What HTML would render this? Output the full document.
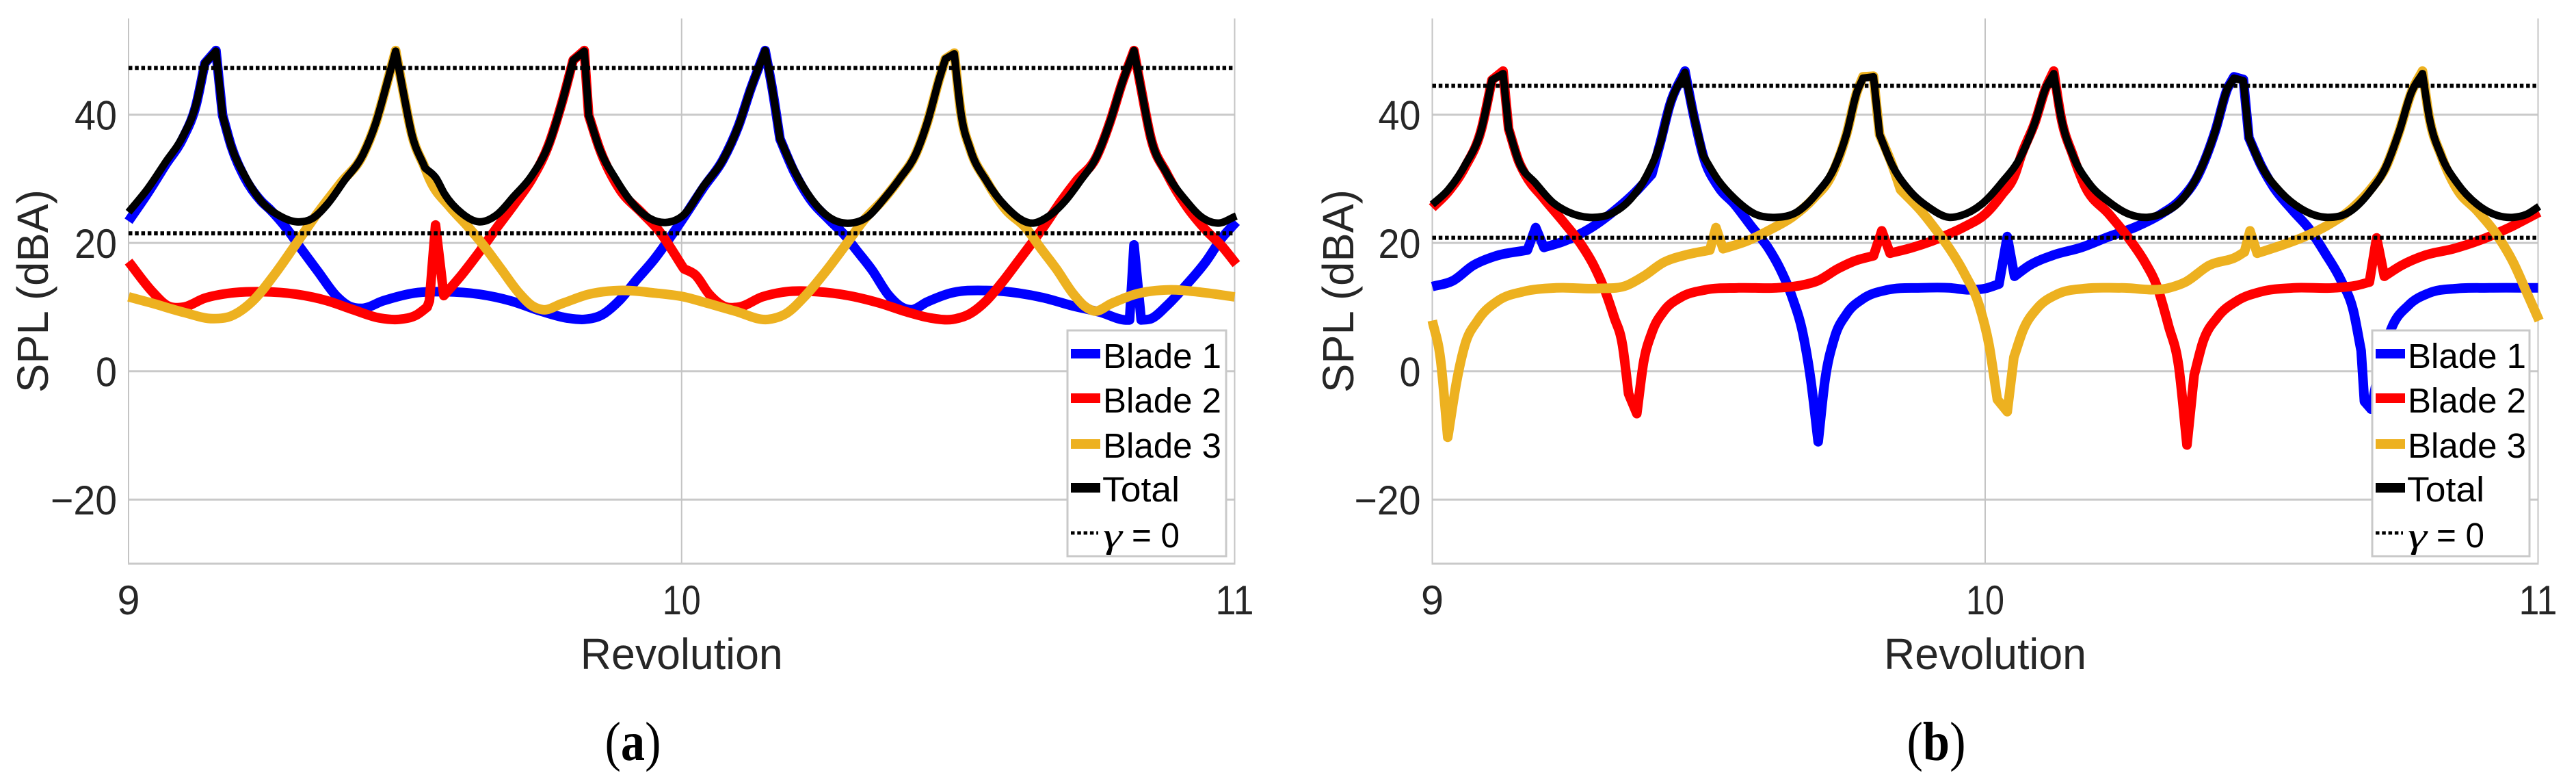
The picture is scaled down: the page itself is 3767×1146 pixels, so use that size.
<!DOCTYPE html>
<html lang="en">
<head>
<meta charset="utf-8">
<title>SPL per blade vs revolution</title>
<style>
html,body{margin:0;padding:0;background:#fff;width:3767px;height:1146px;overflow:hidden}
svg{display:block}
text{font-family:"Liberation Sans",sans-serif}
</style>
</head>
<body>
<svg id="figure" xmlns="http://www.w3.org/2000/svg" width="3767" height="1146" viewBox="0 0 3767 1146"></svg>
<script>
const xTicks = [9, 10, 11];
const yTicks = [-20, 0, 20, 40];
const xDomain = [9, 11];
const yDomain = [-30, 55];
const seriesLabels = ['Blade 1', 'Blade 2', 'Blade 3', 'Total'];

/* ---------- Panel (a) ---------- */
const aBlade1Rev = [9,9.035,9.067,9.098,9.122,9.138,9.158,9.17,9.186,9.21,9.24,9.256,9.288,9.312,9.343,9.375,9.398,9.422,9.461,9.517,9.572,9.635,9.69,9.745,9.793,9.824,9.856,9.887,9.919,9.951,9.982,10.004,10.04,10.075,10.103,10.125,10.151,10.164,10.178,10.203,10.231,10.267,10.295,10.316,10.345,10.373,10.398,10.416,10.444,10.487,10.551,10.608,10.657,10.707,10.757,10.803,10.81,10.818,10.831,10.849,10.877,10.913,10.948,10.977,11.003];
const aBlade1Spl = [23.4,27.8,32.2,36.3,41.5,48,50,39.9,35,30.2,26.5,25.2,22,19.1,15.5,11.8,10.2,9.8,11,12.2,12.4,12,11,9.4,8.3,8.1,8.8,11,14.3,17.5,21.2,24,28.7,33,38.3,44,50,44,36.2,31.2,27,23.6,21.2,18.9,15.7,12,10,9.6,10.8,12.2,12.6,12.2,11.4,10.2,9.2,8,8,19.7,8,8.2,10.2,13.5,17.1,20.8,23.3];
const aBlade2Rev = [9,9.043,9.071,9.099,9.138,9.185,9.241,9.304,9.359,9.406,9.454,9.489,9.521,9.54,9.544,9.555,9.57,9.603,9.635,9.666,9.698,9.73,9.76,9.785,9.804,9.824,9.832,9.852,9.887,9.927,9.958,10.004,10.025,10.05,10.075,10.103,10.146,10.189,10.245,10.302,10.359,10.409,10.451,10.49,10.522,10.551,10.579,10.608,10.629,10.657,10.686,10.714,10.75,10.774,10.796,10.818,10.831,10.849,10.877,10.913,10.948,10.977,11.003];
const aBlade2Spl = [17.1,12.4,10.2,10,11.4,12.2,12.4,12,11,9.6,8.3,8.1,8.8,10,11,22.8,11.8,15.1,18.7,22.4,26.1,30.1,35.4,42.3,48.5,50,39.9,34.6,28.5,24.8,22,16,15,12,10.2,10,11.6,12.4,12.4,11.8,10.6,9.2,8.3,8.1,9,11,13.8,17.1,19.5,22.8,26.5,29.7,33.4,38.7,44.8,50,44,36.2,30.9,25.7,22,19.5,16.7];
const aBlade3Rev = [9,9.043,9.099,9.154,9.185,9.225,9.264,9.304,9.343,9.383,9.424,9.447,9.467,9.483,9.496,9.512,9.536,9.544,9.58,9.611,9.643,9.674,9.706,9.73,9.749,9.785,9.832,9.887,9.951,10.004,10.047,10.096,10.157,10.189,10.224,10.26,10.295,10.33,10.366,10.395,10.423,10.444,10.466,10.477,10.493,10.505,10.522,10.551,10.586,10.622,10.65,10.678,10.707,10.728,10.746,10.778,10.82,10.884,10.941,11];
const aBlade3Spl = [11.6,10.6,9.2,8.2,8.6,11,15.1,20,24.8,29.3,33.8,38.7,44.8,50,43.9,37,31.7,30,25.7,22.8,19.5,15.9,12.2,10.2,9.6,10.6,12,12.6,12.2,11.6,10.6,9.4,8.1,9,11.8,15.5,19.5,23.6,26.9,30.1,33.8,38.7,45.6,48.7,49.6,40.3,34.6,29.7,25.2,22.4,19.1,15.9,12.2,10.2,9.4,10.6,12,12.7,12.3,11.6];
const aTotalRev = [9,9.035,9.067,9.098,9.122,9.138,9.158,9.17,9.186,9.21,9.24,9.274,9.304,9.332,9.36,9.39,9.424,9.447,9.467,9.483,9.496,9.512,9.536,9.556,9.571,9.603,9.634,9.666,9.697,9.729,9.76,9.785,9.804,9.824,9.832,9.852,9.88,9.912,9.943,9.971,10.004,10.04,10.075,10.103,10.125,10.151,10.164,10.178,10.203,10.231,10.267,10.306,10.338,10.366,10.395,10.423,10.444,10.466,10.477,10.493,10.505,10.522,10.551,10.586,10.636,10.664,10.693,10.721,10.75,10.774,10.796,10.818,10.831,10.849,10.877,10.913,10.941,10.97,11.003];
const aTotalSpl = [24.8,28.5,32.6,36.6,41.6,48,49.9,39.9,35,30.5,26.5,24.2,23.3,23.8,26.1,29.7,33.8,38.7,44.8,49.9,43.9,37,31.7,30.1,27.7,24.6,23.3,24.4,27.3,30.5,35.4,42.3,48.5,49.9,39.9,34.6,30.1,26.1,23.8,23.2,24.4,28.9,33,38.3,44,50,44,36.2,31.4,27.3,24,23.1,24.2,26.9,30.1,33.8,38.7,45.6,48.7,49.5,40.3,34.6,29.7,25.7,23.1,24.2,26.5,29.7,33.4,38.7,44.8,50,44,36.2,30.9,26.5,24,23.1,24.2];
const aGammaZero = [47.3, 21.5];

/* ---------- Panel (b) ---------- */
const bBlade1Rev = [9,9.037,9.074,9.112,9.172,9.187,9.202,9.239,9.284,9.329,9.367,9.397,9.412,9.43,9.457,9.472,9.49,9.517,9.547,9.577,9.607,9.629,9.652,9.67,9.685,9.698,9.71,9.727,9.749,9.779,9.824,9.884,9.935,9.971,10,10.025,10.04,10.053,10.08,10.123,10.174,10.224,10.275,10.318,10.355,10.383,10.416,10.438,10.45,10.467,10.477,10.499,10.521,10.557,10.586,10.615,10.644,10.666,10.68,10.686,10.698,10.712,10.734,10.766,10.803,10.854,10.912,11];
const bBlade1Spl = [13.2,14.1,16.5,17.9,18.9,22.4,19.3,20.3,22.2,25,27.9,30.7,35.5,41.6,46.8,40.2,33.6,28.8,26,22.6,19.3,16,11.3,6,-1.6,-11,-1.6,5.1,8.9,11.3,12.7,13,13,12.7,12.9,13.6,21,14.8,16.5,18.1,19.3,21,22.6,24.5,26.9,30.2,37.4,44,45.9,45.5,36.4,32.1,28.8,25,22.2,18.4,14.1,9.4,3.2,-4.7,-5.9,0,6.5,10.3,12.2,12.9,13,13];
const bBlade2Rev = [9,9.029,9.059,9.089,9.108,9.128,9.138,9.157,9.168,9.202,9.239,9.269,9.292,9.314,9.329,9.344,9.355,9.37,9.382,9.397,9.419,9.449,9.494,9.554,9.622,9.667,9.697,9.734,9.764,9.798,9.813,9.828,9.869,9.935,9.964,10,10.029,10.054,10.065,10.09,10.109,10.124,10.137,10.159,10.181,10.224,10.26,10.289,10.311,10.332,10.35,10.365,10.378,10.394,10.42,10.456,10.499,10.557,10.63,10.673,10.695,10.708,10.722,10.753,10.796,10.847,10.897,10.948,11.002];
const bBlade2Spl = [25.5,28,31.8,37.8,45.4,46.8,37.8,32.6,30.7,26.9,23.1,19.8,16.5,12.2,8.4,4.1,-3.5,-6.6,1.3,6,9.4,11.5,12.7,13,13,13.4,14.1,16,17.2,18,21.9,18.4,19.3,21.4,22.6,24.5,27.4,30.7,33.6,38.8,44,46.8,39.7,33.6,28.8,24.5,20.7,17,13.2,7,0.8,-11.5,-0.6,4.6,8.4,11,12.4,13,13,13.4,13.9,20.8,14.8,16.5,18.1,19.1,20.5,22.4,24.8];
const bBlade3Rev = [9,9.015,9.028,9.044,9.059,9.082,9.119,9.164,9.224,9.299,9.352,9.382,9.419,9.457,9.502,9.513,9.526,9.569,9.614,9.652,9.689,9.723,9.749,9.768,9.779,9.798,9.809,9.832,9.847,9.884,9.914,9.935,9.964,9.989,10.007,10.022,10.04,10.052,10.069,10.094,10.13,10.181,10.246,10.333,10.362,10.405,10.456,10.469,10.479,10.492,10.535,10.578,10.622,10.665,10.701,10.724,10.749,10.771,10.791,10.803,10.825,10.854,10.89,10.926,10.955,10.98,11.002];
const bBlade3Spl = [7.9,1.8,-10.3,-1.6,4.1,7.9,11,12.4,13,12.9,13.4,14.8,17,18.1,18.9,22.4,19.1,20.3,22.2,24.1,26.9,30.7,36.9,43.5,45.9,46,36.9,32.1,28.3,25,21.7,19.2,15,10.3,4.1,-4.4,-6.3,2.2,6.5,9.8,12,12.9,13,13,13.9,16.5,17.9,18.6,21.9,18.4,19.6,21,22.9,25.5,28.8,31.7,37.4,43.5,46.8,39.7,33.6,28.3,25,21.2,17,12.2,7.9];
const bTotalRev = [9,9.029,9.059,9.089,9.108,9.128,9.138,9.157,9.187,9.217,9.247,9.284,9.322,9.359,9.389,9.412,9.43,9.457,9.472,9.49,9.517,9.547,9.584,9.622,9.659,9.697,9.727,9.749,9.768,9.779,9.798,9.809,9.832,9.862,9.899,9.935,9.957,9.993,10.029,10.065,10.09,10.109,10.124,10.137,10.159,10.188,10.224,10.26,10.293,10.325,10.362,10.391,10.416,10.438,10.45,10.467,10.477,10.499,10.535,10.572,10.619,10.658,10.695,10.724,10.749,10.771,10.791,10.803,10.825,10.854,10.89,10.926,10.955,10.98,11.002];
const bTotalSpl = [26,28.3,32.1,37.8,45.4,46.4,37.8,32.6,29.3,26.4,24.8,24,24.5,26.9,30.7,35.5,41.6,46.6,40.2,33.6,29.8,26.9,24.5,24,24.8,27.9,31.7,36.9,43.5,45.7,45.9,36.9,32.1,28.3,25.5,24,24.3,26,29.3,33.6,38.8,44,46.4,39.7,33.6,29.3,26.4,24.5,24,24.8,27.4,31.7,37.4,44,45.7,45.3,36.4,32.1,27.9,25.3,24,24.8,27.9,31.7,37.4,43.5,46.4,39.7,33.6,29.3,26,24.3,24,24.5,25.7];
const bGammaZero = [44.5, 20.8];

const svgNS = 'http://www.w3.org/2000/svg';
const root = document.getElementById('figure');

const palette = ['#0000ff', '#ff0000', '#edb120', '#000000'];
const gridColor = '#c9c9c9';

function addLine(parent, x1, y1, x2, y2, stroke, width, name, dash) {
  const el = document.createElementNS(svgNS, 'line');
  
  
  el.setAttribute('x1', x1);
  el.setAttribute('y1', y1);
  el.setAttribute('x2', x2);
  el.setAttribute('y2', y2);
  el.setAttribute('stroke', stroke);
  el.setAttribute('stroke-width', width);
  if (dash) el.setAttribute('stroke-dasharray', dash);
  parent.appendChild(el);
  return el;
}

function addText(parent, str, x, y, size, fill, anchor, name, fitWidth) {
  const el = document.createElementNS(svgNS, 'text');
  
  
  el.setAttribute('x', x);
  el.setAttribute('y', y);
  el.setAttribute('font-size', size);
  el.setAttribute('fill', fill);
  el.setAttribute('text-anchor', anchor);
  if (fitWidth) {
    el.setAttribute('textLength', fitWidth);
    el.setAttribute('lengthAdjust', 'spacingAndGlyphs');
  }
  el.textContent = str;
  parent.appendChild(el);
  return el;
}

/* Smooth cubic through the samples, keeping sharp corners at cusps and spikes. */
function cuspPath(xs, ys) {
  const n = xs.length;
  const slopes = [];
  for (let i = 0; i < n - 1; i++) slopes.push((ys[i + 1] - ys[i]) / (xs[i + 1] - xs[i]));
  const tanIn = new Array(n), tanOut = new Array(n);
  tanOut[0] = slopes[0];
  tanIn[n - 1] = slopes[n - 2];
  for (let i = 1; i < n - 1; i++) {
    const h0 = xs[i] - xs[i - 1], h1 = xs[i + 1] - xs[i];
    const s0 = slopes[i - 1], s1 = slopes[i];
    const a0 = Math.abs(s0), a1 = Math.abs(s1);
    const steep = Math.max(a0, a1) > 1.5;
    const flip = s0 * s1 < 0;
    const ratio = Math.max(a0, a1) / Math.max(Math.min(a0, a1), 1e-6);
    if (steep && (flip || ratio > 2.5)) {
      tanIn[i] = s0;
      tanOut[i] = s1;
    } else {
      const p = (s0 * h1 + s1 * h0) / (h0 + h1);
      tanIn[i] = p;
      tanOut[i] = p;
    }
  }
  let d = 'M' + xs[0].toFixed(1) + ' ' + ys[0].toFixed(1);
  for (let i = 0; i < n - 1; i++) {
    const h = (xs[i + 1] - xs[i]) / 3;
    d += 'C' + (xs[i] + h).toFixed(1) + ' ' + (ys[i] + h * tanOut[i]).toFixed(1) + ' ' +
         (xs[i + 1] - h).toFixed(1) + ' ' + (ys[i + 1] - h * tanIn[i + 1]).toFixed(1) + ' ' +
         xs[i + 1].toFixed(1) + ' ' + ys[i + 1].toFixed(1);
  }
  return d;
}

function drawPanel(cfg) {
  const g = document.createElementNS(svgNS, 'g');
  
  
  root.appendChild(g);

  const top = 27, bottom = 824;
  const xScale = r => cfg.left + (r - xDomain[0]) / (xDomain[1] - xDomain[0]) * (cfg.right - cfg.left);
  const yScale = v => bottom - (v - yDomain[0]) / (yDomain[1] - yDomain[0]) * (bottom - top);

  yTicks.forEach(v => {
    addLine(g, cfg.left, yScale(v), cfg.right, yScale(v), gridColor, 3, 'y-gridline');
    const label = v < 0 ? '\u2212' + Math.abs(v) : String(v);
    addText(g, label, cfg.left - 17, yScale(v) + 22, 60, '#262626', 'end', 'y-tick-label', v < 0 ? 97 : (Math.abs(v) > 9 ? 62 : 31));
  });
  xTicks.forEach(r => {
    addLine(g, xScale(r), top, xScale(r), bottom, '#c4c4c4', 2, 'x-gridline');
    addText(g, String(r), xScale(r), 898, 60, '#262626', 'middle', 'x-tick-label', r > 9 ? 56 : 33);
  });
  addLine(g, cfg.left - 1, bottom, cfg.right + 1, bottom, gridColor, 3, 'x-axis-line');

  cfg.series.forEach((s, i) => {
    const el = document.createElementNS(svgNS, 'path');
    
    
    el.setAttribute('d', cuspPath(s.rev.map(xScale), s.spl.map(yScale)));
    el.setAttribute('fill', 'none');
    el.setAttribute('stroke', palette[i]);
    el.setAttribute('stroke-width', i === 3 ? 11 : 14);
    el.setAttribute('stroke-linejoin', 'round');
    g.appendChild(el);
  });

  cfg.gamma.forEach(v => {
    addLine(g, cfg.left, yScale(v), cfg.right, yScale(v), '#000', 6, 'gamma-zero-line', '5.5 3.8');
  });

  const yl = document.createElementNS(svgNS, 'text');
  
  
  yl.setAttribute('transform', 'translate(' + cfg.yTitleX + ',425.5) rotate(-90)');
  yl.setAttribute('font-size', 64);
  yl.setAttribute('fill', '#262626');
  yl.setAttribute('text-anchor', 'middle');
  yl.setAttribute('textLength', 297);
  yl.setAttribute('lengthAdjust', 'spacingAndGlyphs');
  yl.textContent = 'SPL (dBA)';
  g.appendChild(yl);

  addText(g, 'Revolution', (cfg.left + cfg.right) / 2, 978, 64, '#262626', 'middle', 'x-axis-title', 296);

  /* legend */
  const lg = document.createElementNS(svgNS, 'g');
  
  
  g.appendChild(lg);
  const box = document.createElementNS(svgNS, 'rect');
  
  
  box.setAttribute('x', cfg.legendX);
  box.setAttribute('y', 483);
  box.setAttribute('width', cfg.legendW);
  box.setAttribute('height', 330);
  box.setAttribute('fill', '#fff');
  box.setAttribute('stroke', gridColor);
  box.setAttribute('stroke-width', 3);
  lg.appendChild(box);

  const handleY = [517, 582, 649, 713];
  const textY = [538, 603, 669, 733];
  seriesLabels.forEach((label, i) => {
    addLine(lg, cfg.legendX + 5, handleY[i], cfg.legendX + 48, handleY[i], palette[i], 14, 'legend-handle');
    addText(lg, label, cfg.legendX + (i === 3 ? 51 : 52), textY[i], 51, '#000', 'start', 'legend-entry', i === 3 ? 113 : 173);
  });
  addLine(lg, cfg.legendX + 5, 779, cfg.legendX + 45, 779, '#000', 5, 'legend-handle', '5.5 3.8');
  const gam = addText(lg, '\u03B3', cfg.legendX + 52, 800, 52, '#000', 'start', 'legend-entry', 28);
  gam.setAttribute('font-style', 'italic');
  gam.style.fontFamily = '"Liberation Serif",serif';
  addText(lg, '= 0', cfg.legendX + 94, 800, 51, '#000', 'start', 'legend-entry', 70);

  /* sub-caption */
  const cap = document.createElementNS(svgNS, 'text');
  
  
  cap.setAttribute('transform', 'translate(' + cfg.captionX + ',1111) scale(0.88,1)');
  cap.setAttribute('font-size', 80);
  cap.setAttribute('text-anchor', 'middle');
  cap.setAttribute('fill', '#000');
  cap.style.fontFamily = '"Liberation Serif",serif';
  const open = document.createElementNS(svgNS, 'tspan');
  open.textContent = '(';
  const letter = document.createElementNS(svgNS, 'tspan');
  letter.setAttribute('font-weight', 'bold');
  letter.textContent = cfg.letter;
  const close = document.createElementNS(svgNS, 'tspan');
  close.textContent = ')';
  cap.appendChild(open);
  cap.appendChild(letter);
  cap.appendChild(close);
  g.appendChild(cap);
}

drawPanel({
  name: 'panel-a', left: 188, right: 1805.5, yTitleX: 70, legendX: 1561, legendW: 232, captionX: 925.5, letter: 'a', gamma: aGammaZero,
  series: [
    {name: 'blade-1-line', rev: aBlade1Rev, spl: aBlade1Spl},
    {name: 'blade-2-line', rev: aBlade2Rev, spl: aBlade2Spl},
    {name: 'blade-3-line', rev: aBlade3Rev, spl: aBlade3Spl},
    {name: 'total-line', rev: aTotalRev, spl: aTotalSpl}
  ]
});
drawPanel({
  name: 'panel-b', left: 2094.5, right: 3711.5, yTitleX: 1979, legendX: 3469, legendW: 230, captionX: 2831.5, letter: 'b', gamma: bGammaZero,
  series: [
    {name: 'blade-1-line', rev: bBlade1Rev, spl: bBlade1Spl},
    {name: 'blade-2-line', rev: bBlade2Rev, spl: bBlade2Spl},
    {name: 'blade-3-line', rev: bBlade3Rev, spl: bBlade3Spl},
    {name: 'total-line', rev: bTotalRev, spl: bTotalSpl}
  ]
});
</script>
</body>
</html>
